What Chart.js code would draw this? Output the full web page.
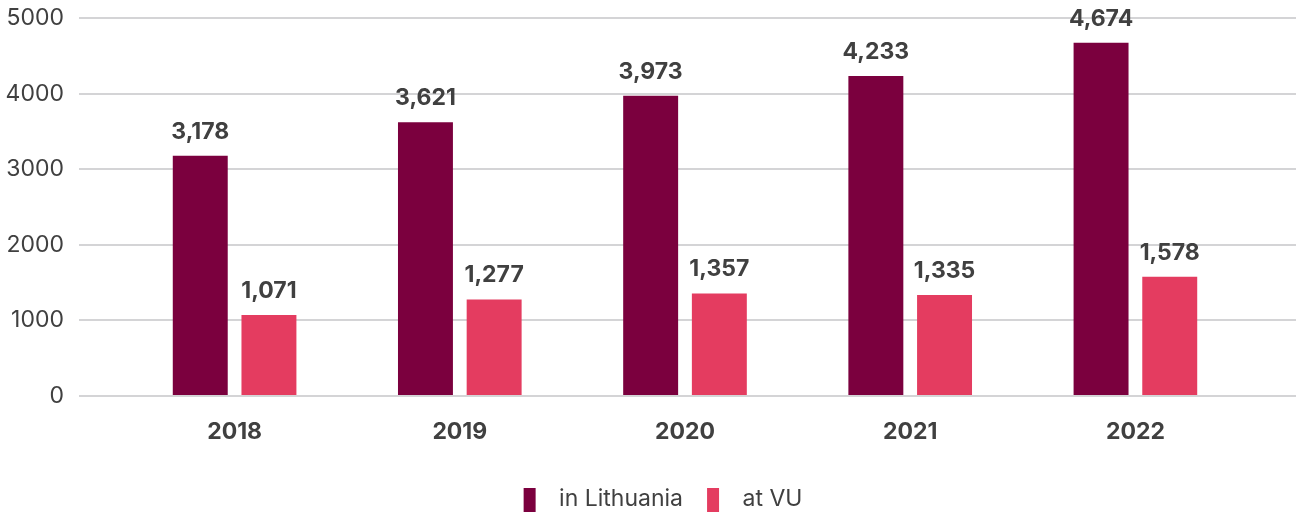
<!DOCTYPE html>
<html>
<head>
<meta charset="utf-8">
<script src="https://cdn.jsdelivr.net/npm/chart.js@4/dist/chart.umd.min.js"></script>
<style>
  html, body { margin: 0; padding: 0; background: #ffffff; }
  #wrap { width: 1296px; height: 512px; position: relative; }
</style>
</head>
<body>
<div id="wrap"><canvas id="c" width="1296" height="512"></canvas></div>
<script>
const categories = ['2018', '2019', '2020', '2021', '2022'];
const seriesNames = ['in Lithuania', 'at VU'];
const inLithuania = [3178, 3621, 3973, 4233, 4674];
const atVU = [1071, 1277, 1357, 1335, 1578];
const yTicks = [0, 1000, 2000, 3000, 4000, 5000];

const DARK = '#7b003e';
const PINK = '#e43c60';
const TEXT = '#404040';
const GRID = '#d4d4d6';
const FONT = 'Inter, "Noto Sans", sans-serif';

function legendImage(color) {
  const c = document.createElement('canvas');
  c.width = 38; c.height = 24;
  const g = c.getContext('2d');
  g.fillStyle = color;
  g.fillRect(14, 0, 12, 24);
  return c;
}

const valueLabels = {
  id: 'valueLabels',
  afterDatasetsDraw(chart) {
    const ctx = chart.ctx;
    ctx.save();
    ctx.font = 'bold 23px ' + FONT;
    ctx.fillStyle = TEXT;
    ctx.textAlign = 'center';
    ctx.textBaseline = 'middle';
    chart.data.datasets.forEach((ds, i) => {
      const meta = chart.getDatasetMeta(i);
      meta.data.forEach((el, j) => {
        ctx.fillText(ds.data[j].toLocaleString('en-US'), el.x, el.y - 24);
      });
    });
    ctx.restore();
  }
};

new Chart(document.getElementById('c'), {
  type: 'bar',
  data: {
    labels: categories,
    datasets: [
      { label: seriesNames[0], data: inLithuania, backgroundColor: DARK, pointStyle: legendImage(DARK),
        barPercentage: 0.8, categoryPercentage: 0.61 },
      { label: seriesNames[1], data: atVU, backgroundColor: PINK, pointStyle: legendImage(PINK),
        barPercentage: 0.8, categoryPercentage: 0.61 }
    ]
  },
  options: {
    responsive: false,
    animation: false,
    layout: { padding: { top: 18, bottom: -9, left: 0, right: -16 } },
    plugins: {
      tooltip: { enabled: false },
      legend: {
        position: 'bottom',
        labels: {
          usePointStyle: true,
          pointStyleWidth: 38,
          boxHeight: 24,
          padding: 10,
          color: TEXT,
          font: { family: FONT, size: 23 }
        }
      }
    },
    scales: {
      x: {
        afterFit(scale) { scale.height = 82; },
        grid: { display: false, drawTicks: false },
        border: { display: false },
        ticks: { color: TEXT, padding: 22, font: { family: FONT, size: 23, weight: 'bold' } }
      },
      y: {
        position: 'left',
        min: 0, max: 5000,
        afterBuildTicks(scale) { scale.ticks = yTicks.map(v => ({ value: v })); },
        afterFit(scale) { scale.width = 122; scale.paddingTop = 0; scale.paddingBottom = 0; },
        grid: { color: GRID, lineWidth: 2, tickLength: 43, drawTicks: true },
        border: { display: false },
        ticks: { color: TEXT, padding: 15, font: { family: FONT, size: 23 }, callback: v => String(v) }
      },
      y2: {
        position: 'right',
        min: 0, max: 5000,
        afterBuildTicks(scale) { scale.ticks = yTicks.map(v => ({ value: v })); },
        afterFit(scale) { scale.width = 64; scale.paddingTop = 0; scale.paddingBottom = 0; },
        grid: { color: GRID, lineWidth: 2, tickLength: 48, drawTicks: true, drawOnChartArea: false },
        border: { display: false },
        ticks: { display: false }
      }
    }
  },
  plugins: [valueLabels]
});
</script>
</body>
</html>
